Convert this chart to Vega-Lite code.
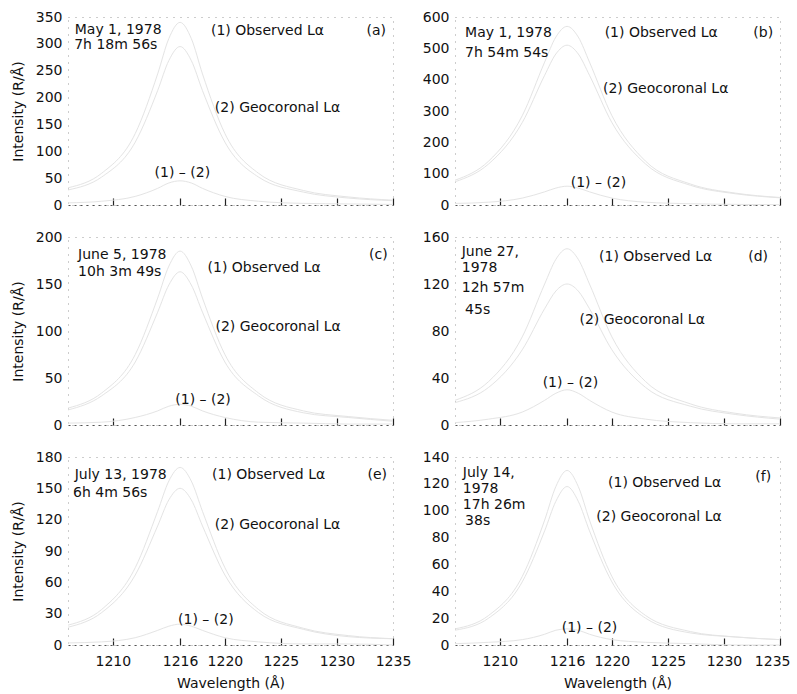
{
"$schema": "https://vega.github.io/schema/vega-lite/v6.json",
"padding": {"top": 9, "left": 10, "right": 5, "bottom": 5},
"background": "white",
"config": {
 "font": "DejaVu Sans",
 "view": {"stroke": "#9a9a9a", "strokeDash": [1, 6], "strokeWidth": 1},
 "axis": {"grid": false, "labelFont": "DejaVu Sans", "labelFontSize": 14, "labelColor": "#111", "titleFont": "DejaVu Sans", "titleFontSize": 14, "titleFontWeight": "normal", "titleColor": "#111", "labelFlush": false, "labelOverlap": false},
 "axisX": {"domainColor": "#555", "domainDash": [2, 4], "tickColor": "#222", "tickWidth": 1.2, "tickSize": -7, "labelPadding": 16, "titlePadding": 8},
 "axisY": {"domain": false, "ticks": false, "labelPadding": 6, "titlePadding": 10},
 "text": {"font": "DejaVu Sans", "fontSize": 14, "color": "#111"}
},
"datasets": {
 "curves": [
  {"p":"a","w":1206,"obs":32,"geo":28,"dif":4},{"p":"a","w":1209,"obs":59,"geo":52,"dif":7},{"p":"a","w":1212,"obs":133,"geo":117,"dif":16},{"p":"a","w":1214,"obs":244,"geo":213,"dif":31},{"p":"a","w":1215,"obs":310,"geo":269,"dif":41},{"p":"a","w":1216,"obs":340,"geo":295,"dif":45},{"p":"a","w":1217,"obs":310,"geo":269,"dif":41},{"p":"a","w":1218,"obs":244,"geo":213,"dif":31},{"p":"a","w":1220,"obs":133,"geo":117,"dif":16},{"p":"a","w":1223,"obs":59,"geo":52,"dif":7},{"p":"a","w":1227,"obs":27,"geo":24,"dif":3},{"p":"a","w":1231,"obs":15,"geo":13,"dif":2},{"p":"a","w":1235,"obs":9,"geo":8,"dif":1},
  {"p":"b","w":1206,"obs":79,"geo":74,"dif":5},{"p":"b","w":1209,"obs":140,"geo":131,"dif":9},{"p":"b","w":1212,"obs":285,"geo":263,"dif":22},{"p":"b","w":1214,"obs":456,"geo":414,"dif":42},{"p":"b","w":1215,"obs":536,"geo":482,"dif":54},{"p":"b","w":1216,"obs":570,"geo":510,"dif":60},{"p":"b","w":1217,"obs":536,"geo":482,"dif":54},{"p":"b","w":1218,"obs":456,"geo":414,"dif":42},{"p":"b","w":1220,"obs":285,"geo":263,"dif":22},{"p":"b","w":1223,"obs":140,"geo":131,"dif":9},{"p":"b","w":1227,"obs":67,"geo":63,"dif":4},{"p":"b","w":1231,"obs":38,"geo":36,"dif":2},{"p":"b","w":1235,"obs":24,"geo":23,"dif":1},
  {"p":"c","w":1206,"obs":18,"geo":16,"dif":2},{"p":"c","w":1209,"obs":34,"geo":31,"dif":3},{"p":"c","w":1212,"obs":75,"geo":67,"dif":8},{"p":"c","w":1214,"obs":135,"geo":120,"dif":15},{"p":"c","w":1215,"obs":169,"geo":149,"dif":20},{"p":"c","w":1216,"obs":185,"geo":163,"dif":22},{"p":"c","w":1217,"obs":169,"geo":149,"dif":20},{"p":"c","w":1218,"obs":135,"geo":120,"dif":15},{"p":"c","w":1220,"obs":75,"geo":67,"dif":8},{"p":"c","w":1223,"obs":34,"geo":31,"dif":3},{"p":"c","w":1227,"obs":15,"geo":13,"dif":2},{"p":"c","w":1231,"obs":9,"geo":8,"dif":1},{"p":"c","w":1235,"obs":5,"geo":4,"dif":1},
  {"p":"d","w":1206,"obs":21,"geo":19,"dif":2},{"p":"d","w":1209,"obs":37,"geo":32,"dif":5},{"p":"d","w":1212,"obs":75,"geo":64,"dif":11},{"p":"d","w":1214,"obs":120,"geo":99,"dif":21},{"p":"d","w":1215,"obs":141,"geo":114,"dif":27},{"p":"d","w":1216,"obs":150,"geo":120,"dif":30},{"p":"d","w":1217,"obs":141,"geo":114,"dif":27},{"p":"d","w":1218,"obs":120,"geo":99,"dif":21},{"p":"d","w":1220,"obs":75,"geo":64,"dif":11},{"p":"d","w":1223,"obs":37,"geo":32,"dif":5},{"p":"d","w":1227,"obs":18,"geo":16,"dif":2},{"p":"d","w":1231,"obs":10,"geo":9,"dif":1},{"p":"d","w":1235,"obs":6,"geo":5,"dif":1},
  {"p":"e","w":1206,"obs":19,"geo":17,"dif":2},{"p":"e","w":1209,"obs":34,"geo":31,"dif":3},{"p":"e","w":1212,"obs":74,"geo":67,"dif":7},{"p":"e","w":1214,"obs":128,"geo":114,"dif":14},{"p":"e","w":1215,"obs":157,"geo":139,"dif":18},{"p":"e","w":1216,"obs":170,"geo":150,"dif":20},{"p":"e","w":1217,"obs":157,"geo":139,"dif":18},{"p":"e","w":1218,"obs":128,"geo":114,"dif":14},{"p":"e","w":1220,"obs":74,"geo":67,"dif":7},{"p":"e","w":1223,"obs":34,"geo":31,"dif":3},{"p":"e","w":1227,"obs":16,"geo":15,"dif":1},{"p":"e","w":1231,"obs":9,"geo":8,"dif":1},{"p":"e","w":1235,"obs":6,"geo":6,"dif":0},
  {"p":"f","w":1206,"obs":12,"geo":11,"dif":1},{"p":"f","w":1209,"obs":22,"geo":20,"dif":2},{"p":"f","w":1212,"obs":51,"geo":47,"dif":4},{"p":"f","w":1214,"obs":93,"geo":85,"dif":8},{"p":"f","w":1215,"obs":118,"geo":107,"dif":11},{"p":"f","w":1216,"obs":130,"geo":118,"dif":12},{"p":"f","w":1217,"obs":118,"geo":107,"dif":11},{"p":"f","w":1218,"obs":93,"geo":85,"dif":8},{"p":"f","w":1220,"obs":51,"geo":47,"dif":4},{"p":"f","w":1223,"obs":22,"geo":20,"dif":2},{"p":"f","w":1227,"obs":10,"geo":9,"dif":1},{"p":"f","w":1231,"obs":6,"geo":6,"dif":0},{"p":"f","w":1235,"obs":4,"geo":4,"dif":0}
 ],
 "labels": [
  {"p":"a","k":"d","w":1206.6,"value":326,"t":"May 1, 1978"},{"p":"a","k":"d","w":1206.55,"value":298,"t":"7h 18m 56s"},
  {"p":"a","k":"l","w":1223.8,"value":324,"t":"(1) Observed Lα"},{"p":"a","k":"l","w":1233.5,"value":324,"t":"(a)"},{"p":"a","k":"l","w":1224.7,"value":181,"t":"(2) Geocoronal Lα"},{"p":"a","k":"l","w":1216.2,"value":60,"t":"(1) – (2)"},
  {"p":"b","k":"d","w":1206.9,"value":549,"t":"May 1, 1978"},{"p":"b","k":"d","w":1206.9,"value":485,"t":"7h 54m 54s"},
  {"p":"b","k":"l","w":1224.4,"value":549,"t":"(1) Observed Lα"},{"p":"b","k":"l","w":1233.5,"value":549,"t":"(b)"},{"p":"b","k":"l","w":1224.8,"value":370,"t":"(2) Geocoronal Lα"},{"p":"b","k":"l","w":1218.8,"value":70,"t":"(1) – (2)"},
  {"p":"c","k":"d","w":1206.9,"value":181,"t":"June 5, 1978"},{"p":"c","k":"d","w":1206.9,"value":163,"t":"10h 3m 49s"},
  {"p":"c","k":"l","w":1223.5,"value":167,"t":"(1) Observed Lα"},{"p":"c","k":"l","w":1233.7,"value":181,"t":"(c)"},{"p":"c","k":"l","w":1224.75,"value":104,"t":"(2) Geocoronal Lα"},{"p":"c","k":"l","w":1218.05,"value":27,"t":"(1) – (2)"},
  {"p":"d","k":"d","w":1206.6,"value":147,"t":"June 27,"},{"p":"d","k":"d","w":1206.6,"value":134,"t":"1978"},{"p":"d","k":"d","w":1206.6,"value":117,"t":"12h 57m"},{"p":"d","k":"d","w":1206.9,"value":98,"t":"45s"},
  {"p":"d","k":"l","w":1223.9,"value":143,"t":"(1) Observed Lα"},{"p":"d","k":"l","w":1233.05,"value":143,"t":"(d)"},{"p":"d","k":"l","w":1222.7,"value":89,"t":"(2) Geocoronal Lα"},{"p":"d","k":"l","w":1216.3,"value":36,"t":"(1) – (2)"},
  {"p":"e","k":"d","w":1206.6,"value":163,"t":"July 13, 1978"},{"p":"e","k":"d","w":1206.45,"value":146,"t":"6h 4m 56s"},
  {"p":"e","k":"l","w":1223.9,"value":163,"t":"(1) Observed Lα"},{"p":"e","k":"l","w":1233.6,"value":163,"t":"(e)"},{"p":"e","k":"l","w":1224.7,"value":115,"t":"(2) Geocoronal Lα"},{"p":"e","k":"l","w":1218.3,"value":24,"t":"(1) – (2)"},
  {"p":"f","k":"d","w":1206.7,"value":128,"t":"July 14,"},{"p":"f","k":"d","w":1206.7,"value":116,"t":"1978"},{"p":"f","k":"d","w":1206.7,"value":104,"t":"17h 26m"},{"p":"f","k":"d","w":1206.9,"value":92,"t":"38s"},
  {"p":"f","k":"l","w":1224.7,"value":121,"t":"(1) Observed Lα"},{"p":"f","k":"l","w":1233.5,"value":125,"t":"(f)"},{"p":"f","k":"l","w":1224.2,"value":95,"t":"(2) Geocoronal Lα"},{"p":"f","k":"l","w":1218.0,"value":13,"t":"(1) – (2)"}
 ]
},
"columns": 2,
"spacing": {"row": 32, "column": 62},
"bounds": "flush",
"concat": [
 {"width": 325, "height": 188,
  "encoding": {"x": {"field": "w", "type": "quantitative", "scale": {"domain": [1206, 1235], "nice": false, "zero": false}, "axis": {"values": [1210, 1216, 1220, 1225, 1230, 1235], "labels": false, "title": null}},
   "y": {"field": "value", "type": "quantitative", "scale": {"domain": [0, 350], "nice": false}, "axis": {"values": [0, 50, 100, 150, 200, 250, 300, 350], "labelOverlap": false, "labelBound": false, "title": "Intensity (R/Å)"}}},
  "layer": [
  {"data": {"name": "curves"}, "transform": [{"filter": "datum.p == 'a'"}, {"fold": ["obs", "geo", "dif"], "as": ["series", "value"]}],
   "mark": {"type": "line", "stroke": "#e4e4e4", "strokeWidth": 1, "interpolate": "monotone"}, "encoding": {"detail": {"field": "series"}}},
  {"data": {"name": "labels"}, "transform": [{"filter": "datum.p == 'a' && datum.k == 'd'"}], "mark": {"type": "text", "align": "left"}, "encoding": {"text": {"field": "t"}}},
  {"data": {"name": "labels"}, "transform": [{"filter": "datum.p == 'a' && datum.k == 'l'"}], "mark": {"type": "text", "align": "center"}, "encoding": {"text": {"field": "t"}}}
 ]},
 {"width": 325, "height": 188,
  "encoding": {"x": {"field": "w", "type": "quantitative", "scale": {"domain": [1206, 1235], "nice": false, "zero": false}, "axis": {"values": [1210, 1216, 1220, 1225, 1230, 1235], "labels": false, "title": null}},
   "y": {"field": "value", "type": "quantitative", "scale": {"domain": [0, 600], "nice": false}, "axis": {"values": [0, 100, 200, 300, 400, 500, 600], "labelOverlap": false, "labelBound": false, "title": null}}},
  "layer": [
  {"data": {"name": "curves"}, "transform": [{"filter": "datum.p == 'b'"}, {"fold": ["obs", "geo", "dif"], "as": ["series", "value"]}],
   "mark": {"type": "line", "stroke": "#e4e4e4", "strokeWidth": 1, "interpolate": "monotone"}, "encoding": {"detail": {"field": "series"}}},
  {"data": {"name": "labels"}, "transform": [{"filter": "datum.p == 'b' && datum.k == 'd'"}], "mark": {"type": "text", "align": "left"}, "encoding": {"text": {"field": "t"}}},
  {"data": {"name": "labels"}, "transform": [{"filter": "datum.p == 'b' && datum.k == 'l'"}], "mark": {"type": "text", "align": "center"}, "encoding": {"text": {"field": "t"}}}
 ]},
 {"width": 325, "height": 188,
  "encoding": {"x": {"field": "w", "type": "quantitative", "scale": {"domain": [1206, 1235], "nice": false, "zero": false}, "axis": {"values": [1210, 1216, 1220, 1225, 1230, 1235], "labels": false, "title": null}},
   "y": {"field": "value", "type": "quantitative", "scale": {"domain": [0, 200], "nice": false}, "axis": {"values": [0, 50, 100, 150, 200], "labelOverlap": false, "labelBound": false, "title": "Intensity (R/Å)"}}},
  "layer": [
  {"data": {"name": "curves"}, "transform": [{"filter": "datum.p == 'c'"}, {"fold": ["obs", "geo", "dif"], "as": ["series", "value"]}],
   "mark": {"type": "line", "stroke": "#e4e4e4", "strokeWidth": 1, "interpolate": "monotone"}, "encoding": {"detail": {"field": "series"}}},
  {"data": {"name": "labels"}, "transform": [{"filter": "datum.p == 'c' && datum.k == 'd'"}], "mark": {"type": "text", "align": "left"}, "encoding": {"text": {"field": "t"}}},
  {"data": {"name": "labels"}, "transform": [{"filter": "datum.p == 'c' && datum.k == 'l'"}], "mark": {"type": "text", "align": "center"}, "encoding": {"text": {"field": "t"}}}
 ]},
 {"width": 325, "height": 188,
  "encoding": {"x": {"field": "w", "type": "quantitative", "scale": {"domain": [1206, 1235], "nice": false, "zero": false}, "axis": {"values": [1210, 1216, 1220, 1225, 1230, 1235], "labels": false, "title": null}},
   "y": {"field": "value", "type": "quantitative", "scale": {"domain": [0, 160], "nice": false}, "axis": {"values": [0, 40, 80, 120, 160], "labelOverlap": false, "labelBound": false, "title": null}}},
  "layer": [
  {"data": {"name": "curves"}, "transform": [{"filter": "datum.p == 'd'"}, {"fold": ["obs", "geo", "dif"], "as": ["series", "value"]}],
   "mark": {"type": "line", "stroke": "#e4e4e4", "strokeWidth": 1, "interpolate": "monotone"}, "encoding": {"detail": {"field": "series"}}},
  {"data": {"name": "labels"}, "transform": [{"filter": "datum.p == 'd' && datum.k == 'd'"}], "mark": {"type": "text", "align": "left"}, "encoding": {"text": {"field": "t"}}},
  {"data": {"name": "labels"}, "transform": [{"filter": "datum.p == 'd' && datum.k == 'l'"}], "mark": {"type": "text", "align": "center"}, "encoding": {"text": {"field": "t"}}}
 ]},
 {"width": 325, "height": 188,
  "encoding": {"x": {"field": "w", "type": "quantitative", "scale": {"domain": [1206, 1235], "nice": false, "zero": false}, "axis": {"values": [1210, 1216, 1220, 1225, 1230, 1235], "format": "d", "labelOverlap": false, "labelBound": false, "title": "Wavelength (Å)"}},
   "y": {"field": "value", "type": "quantitative", "scale": {"domain": [0, 180], "nice": false}, "axis": {"values": [0, 30, 60, 90, 120, 150, 180], "labelOverlap": false, "labelBound": false, "title": "Intensity (R/Å)"}}},
  "layer": [
  {"data": {"name": "curves"}, "transform": [{"filter": "datum.p == 'e'"}, {"fold": ["obs", "geo", "dif"], "as": ["series", "value"]}],
   "mark": {"type": "line", "stroke": "#e4e4e4", "strokeWidth": 1, "interpolate": "monotone"}, "encoding": {"detail": {"field": "series"}}},
  {"data": {"name": "labels"}, "transform": [{"filter": "datum.p == 'e' && datum.k == 'd'"}], "mark": {"type": "text", "align": "left"}, "encoding": {"text": {"field": "t"}}},
  {"data": {"name": "labels"}, "transform": [{"filter": "datum.p == 'e' && datum.k == 'l'"}], "mark": {"type": "text", "align": "center"}, "encoding": {"text": {"field": "t"}}}
 ]},
 {"width": 325, "height": 188,
  "encoding": {"x": {"field": "w", "type": "quantitative", "scale": {"domain": [1206, 1235], "nice": false, "zero": false}, "axis": {"values": [1210, 1216, 1220, 1225, 1230, 1235], "format": "d", "labelOverlap": false, "labelBound": false, "labelFlush": true, "labelFlushOffset": 10, "title": "Wavelength (Å)"}},
   "y": {"field": "value", "type": "quantitative", "scale": {"domain": [0, 140], "nice": false}, "axis": {"values": [0, 20, 40, 60, 80, 100, 120, 140], "labelOverlap": false, "labelBound": false, "title": null}}},
  "layer": [
  {"data": {"name": "curves"}, "transform": [{"filter": "datum.p == 'f'"}, {"fold": ["obs", "geo", "dif"], "as": ["series", "value"]}],
   "mark": {"type": "line", "stroke": "#e4e4e4", "strokeWidth": 1, "interpolate": "monotone"}, "encoding": {"detail": {"field": "series"}}},
  {"data": {"name": "labels"}, "transform": [{"filter": "datum.p == 'f' && datum.k == 'd'"}], "mark": {"type": "text", "align": "left"}, "encoding": {"text": {"field": "t"}}},
  {"data": {"name": "labels"}, "transform": [{"filter": "datum.p == 'f' && datum.k == 'l'"}], "mark": {"type": "text", "align": "center"}, "encoding": {"text": {"field": "t"}}}
 ]}
]
}
